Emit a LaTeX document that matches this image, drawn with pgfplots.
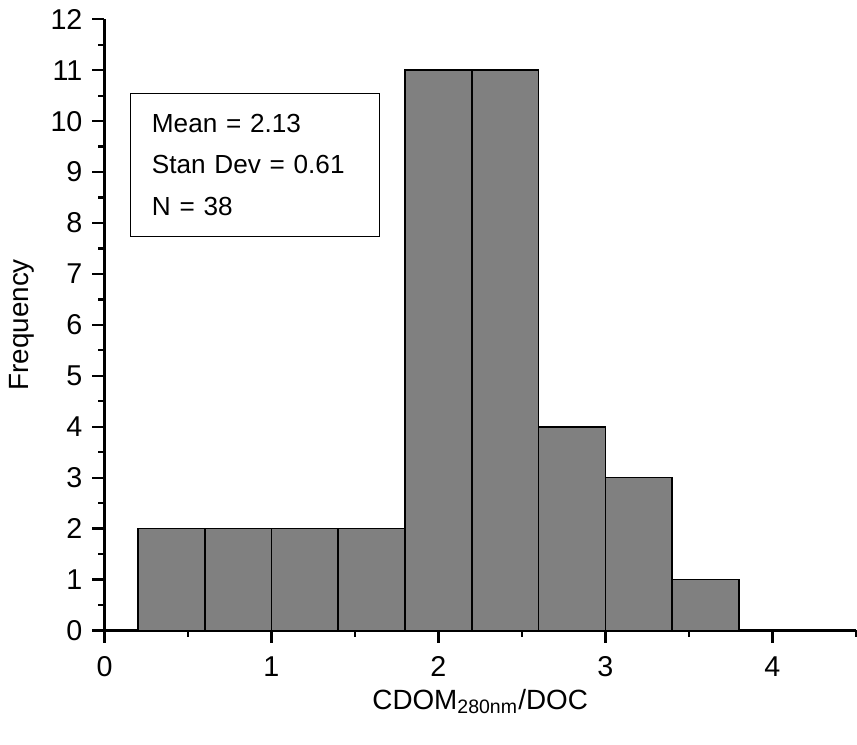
\documentclass[border=0pt]{standalone}
\usepackage{fontspec}
\setmainfont{Liberation Sans}
\usepackage{pgfplots}
\pgfplotsset{compat=1.18}
\begin{document}
\begin{tikzpicture}
\begin{axis}[
    scale only axis,
    width=270pt, height=219.6pt,
    xmin=0, xmax=4.5, ymin=0, ymax=12,
    axis lines*=left,
    axis line style={line width=0.8pt},
    xtick={0,1,2,3,4},
    ytick={0,1,...,12},
    minor xtick={0.5,1.5,2.5,3.5,4.5},
    minor ytick={0.5,1.5,...,11.5},
    tick align=outside,
    major tick length=4.4pt,
    minor tick length=2.2pt,
    every tick/.style={line width=0.8pt, black},
    tick label style={font=\fontsize{10.3}{12}\selectfont},
    /pgf/number format/assume math mode=true,
    xticklabel style={yshift=-1.5pt},
    yticklabel style={xshift=0pt},
    xlabel={CDOM\textsubscript{280nm}/DOC},
    ylabel={Frequency},
    label style={font=\fontsize{10}{12}\selectfont},
    xlabel style={yshift=2.5pt},
    ylabel style={yshift=-1pt},
    clip=false,
]
\addplot[ybar interval, fill=black!50, draw=black, line width=0.6pt] coordinates {
    (0.2,2) (0.6,2) (1.0,2) (1.4,2) (1.8,11) (2.2,11) (2.6,4) (3.0,3) (3.4,1) (3.8,0)
};
\node[draw, line width=0.5pt, anchor=north west, minimum width=89.6pt, minimum height=51.4pt,
      inner xsep=7.8pt, align=left, text width=74pt,
      font=\fontsize{9.4}{14.8}\selectfont] at (axis cs:0.15,10.56)
      {Mean = 2.13\\Stan Dev = 0.61\\N = 38};
% keep the white margin below the x label
\path (rel axis cs:0,0) ++(0,-41pt);
\end{axis}
\end{tikzpicture}
\end{document}
